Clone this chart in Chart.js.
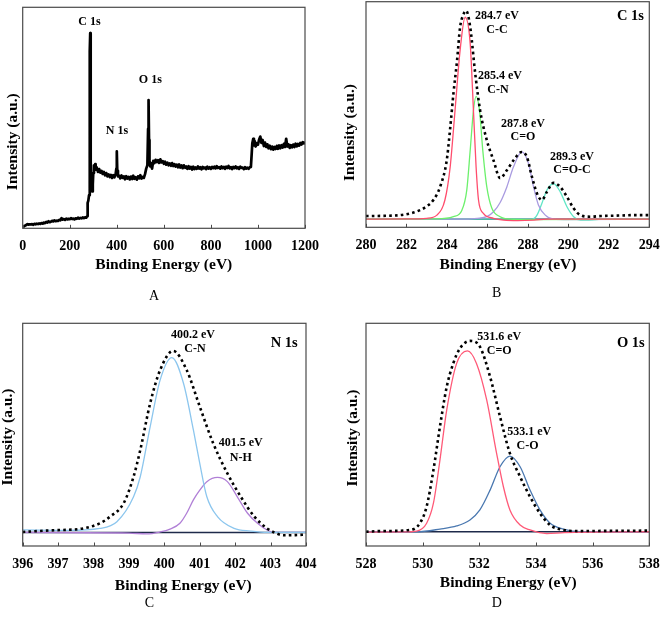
<!DOCTYPE html>
<html><head><meta charset="utf-8">
<script src="https://cdn.jsdelivr.net/npm/chart.js@4.4.1/dist/chart.umd.min.js"></script>
<style>
html,body{margin:0;padding:0;background:#fff;width:661px;height:619px;overflow:hidden;position:relative}
canvas{position:absolute}
</style></head><body>
<canvas id="cA" width="330" height="310" style="left:0;top:0"></canvas>
<canvas id="cB" width="345" height="310" style="left:330px;top:0"></canvas>
<canvas id="cC" width="330" height="309" style="left:0;top:310px"></canvas>
<canvas id="cD" width="345" height="309" style="left:330px;top:310px"></canvas>
<script>
// ---------- DATA ----------
// Panel A: survey spectrum [binding energy (eV), intensity (a.u., 0-100)]
const surveyPoints = [
[0,0.5],[5,0.8],[10,1.2],[15,1.5],[20,1.9],[25,1.6],[30,1.8],[35,1.7],[40,1.9],[45,1.6],[50,2.0],[55,1.8],[60,2.1],[65,1.9],[70,2.2],[75,2.0],[80,2.4],[85,2.1],[90,2.6],[95,2.3],
[100,2.9],[105,2.6],[110,3.2],[115,2.8],[120,3.0],[125,3.4],[130,3.1],[135,3.6],[140,3.2],[145,3.5],[150,3.3],[155,3.8],[160,3.6],[165,4.6],[170,3.9],[175,4.2],[180,3.8],[185,4.4],[190,4.0],[195,4.3],
[200,4.1],[205,4.6],[210,4.2],[215,4.4],[220,4.0],[225,4.5],[230,4.3],[235,4.8],[240,4.4],[245,4.7],[250,4.5],[255,4.9],[260,4.6],[265,5.0],[270,4.8],[274,5.5],[276,11.5],[279,12.5],[282,15],[284,40],
[286,80],[287,88.3],[288,70],[290,30],[292,18],[295,16.7],[298,20],[300,25],[303,28.5],[305,27],[308,29],[310,26.5],[315,27.5],[320,25.5],[325,26.8],[330,25.2],[335,26],[340,24.6],[345,25.5],[350,24],
[355,25],[360,23.5],[365,24.4],[370,23.2],[375,24.2],[380,22.8],[385,24],[390,23.1],[395,24.5],[398,27],[400,34.8],[402,26],[405,23.5],[410,23.8],[415,22.6],[420,23.9],[425,22.8],[430,23.5],[435,22.2],[440,23.6],
[445,22.5],[450,23.3],[455,22.1],[460,23.4],[465,22.3],[470,23.8],[475,22.4],[480,23.1],[485,22.0],[490,23.5],[495,22.6],[500,24.0],[505,22.5],[510,23.2],[515,22.8],[520,24.5],[525,27.0],[530,28.5],[533,45],[535,58],
[537,40],[539,30],[542,28],[545,29.5],[550,27],[555,30.5],[560,29.5],[565,31],[570,30],[575,30.8],[580,29.6],[585,31.2],[590,29.8],[595,30.4],[600,29.2],[605,30.1],[610,28.8],[615,29.7],[620,28.5],[625,29.4],
[630,28.3],[635,29.5],[640,28.2],[645,29],[650,27.9],[655,28.8],[660,27.6],[665,28.9],[670,27.5],[675,28.4],[680,27.2],[685,28.5],[690,27.4],[695,28.0],[700,26.9],[705,28.1],[710,27.0],[715,27.8],[720,26.6],[725,27.9],
[730,26.8],[735,27.5],[740,26.9],[745,28.0],[750,27.0],[755,27.6],[760,26.7],[765,27.8],[770,27.1],[775,27.5],[780,26.8],[785,27.9],[790,27.0],[795,27.6],[800,26.9],[805,27.8],[810,27.2],[815,27.9],[820,27.1],[825,28.1],
[830,27.3],[835,27.7],[840,27.0],[845,28.0],[850,27.2],[855,27.8],[860,26.9],[865,27.9],[870,27.3],[875,28.2],[880,27.1],[885,27.7],[890,26.8],[895,27.8],[900,27.2],[905,28.0],[910,27.1],[915,27.6],[920,26.9],[925,27.9],
[930,27.3],[935,27.5],[940,26.8],[945,27.7],[950,27.0],[955,27.4],[960,26.9],[965,27.6],[970,27.8],[973,33],[976,38.5],[980,40.5],[983,37.5],[986,39.5],[990,37],[995,38.5],[1000,37.8],[1005,40.2],[1010,41.5],[1015,38.6],
[1020,40.0],[1025,37.2],[1030,38.8],[1035,36.8],[1040,38.0],[1045,36.2],[1050,37.4],[1055,35.8],[1060,37.0],[1065,35.6],[1070,36.8],[1075,35.9],[1080,37.3],[1085,36.0],[1090,37.5],[1095,36.2],[1100,37.6],[1105,36.5],[1110,38.2],[1115,36.8],
[1120,40.5],[1125,37.0],[1130,38.0],[1135,36.4],[1140,37.6],[1145,36.6],[1150,37.9],[1155,36.8],[1160,38.3],[1165,37.1],[1170,38.2],[1175,37.4],[1180,38.6],[1185,37.9],[1190,39.0],[1195,38.4],[1200,39.2]
];
const surveyTicks = [0,200,400,600,800,1000,1200];

// Panel B: C 1s
const c1sEnvelope = [[280,5.0],[281,5.1],[281.7,5.4],[282.2,6.2],[282.67,7.6],[283.0,9.3],[283.33,12.1],[283.66,17.9],[283.99,29.7],[284.15,43],[284.32,59.2],[284.5,74],[284.65,88.7],[284.8,94],[284.95,96.0],[285.15,88.7],[285.4,68],[285.64,51.8],[285.97,38.6],[286.3,29.7],[286.63,21.8],[286.96,25.3],[287.29,29.7],[287.7,33.4],[287.95,31.2],[288.2,22.4],[288.45,15.0],[288.69,12.1],[288.94,15.7],[289.27,19.7],[289.6,17.9],[289.93,13.5],[290.26,8.4],[290.6,5.4],[291.1,4.7],[291.6,5.0],[292.5,5.2],[293.3,5.4],[294,5.4]];
const c1sCC = [[280,3.6],[282,3.7],[283.0,4.0],[283.5,5.4],[283.9,12.1],[284.16,26.8],[284.4,51.8],[284.65,78.4],[284.9,93.1],[285.15,81.3],[285.31,51.8],[285.44,26.8],[285.56,12.1],[285.8,6.2],[286.3,4.0],[286.8,3.2],[287.5,3.0],[288.3,3.2],[289,3.6],[294,3.6]];
const c1sCN = [[280,3.6],[283.5,3.7],[284.32,4.7],[284.74,7.6],[284.98,16.5],[285.15,34.2],[285.31,51.8],[285.44,58.0],[285.61,51.8],[285.77,34.2],[285.97,17.9],[286.22,8.4],[286.63,4.7],[287.1,3.6],[288,3.4],[294,3.6]];
const c1sCO = [[280,3.6],[284.5,3.6],[285.5,4.0],[285.97,4.7],[286.3,6.9],[286.63,11.0],[286.96,17.9],[287.29,26.8],[287.7,33.4],[288.03,28.3],[288.28,17.9],[288.52,9.9],[288.86,5.4],[289.27,3.6],[290,3.4],[294,3.6]];
const c1sOCO = [[280,3.7],[287.5,3.6],[288.2,3.6],[288.45,5.4],[288.69,10.6],[288.94,16.5],[289.27,19.4],[289.6,15.7],[289.93,9.1],[290.26,4.7],[290.6,3.2],[290.9,3.2],[291.5,3.5],[294,3.6]];
const c1sBaseline = [[280,3.6],[294,3.6]];
const c1sTicks = [280,282,284,286,288,290,292,294];

// Panel C: N 1s
const n1sEnvelope = [[396,6.3],[396.77,7.0],[397.71,7.9],[398.18,10.2],[398.47,13.2],[398.85,19.2],[399.13,31.1],[399.32,43.1],[399.6,64.1],[399.88,79.0],[400.25,87.6],[400.63,79.0],[401.0,62.6],[401.38,46.1],[401.78,32.6],[402.16,22.1],[402.54,13.2],[402.9,7.9],[403.1,6.1],[403.38,4.8],[403.7,4.9],[404,5.1]];
const n1sCN = [[396,7.2],[397.24,7.0],[398.18,7.9],[398.66,10.9],[399.13,22.1],[399.32,31.1],[399.6,53.6],[399.88,74.5],[400.21,84.6],[400.54,73.1],[400.82,52.1],[401.0,37.1],[401.2,22.1],[401.5,13.2],[401.97,7.9],[402.44,6.7],[402.9,6.1],[404,6.1]];
const n1sNH = [[396,6.1],[399,5.8],[399.5,5.4],[399.88,6.3],[400.16,7.6],[400.44,10.2],[400.63,14.7],[400.82,20.7],[401.0,25.1],[401.2,28.9],[401.5,30.8],[401.78,28.9],[402.06,22.1],[402.35,14.7],[402.63,10.2],[402.9,7.2],[403.1,6.1],[404,6.1]];
const n1sBaseline = [[396,6.1],[404,6.1]];
const n1sTicks = [396,397,398,399,400,401,402,403,404];

// Panel D: O 1s
const o1sEnvelope = [[528,6.4],[528.5,6.7],[529.55,7.2],[529.9,10.2],[530.14,17.7],[530.38,34.1],[530.61,53.6],[530.85,71.5],[531.08,82.0],[531.32,88.8],[531.67,92.1],[532.02,89.5],[532.38,76.0],[532.73,58.1],[533.08,41.6],[533.44,31.1],[533.79,22.1],[534.14,14.7],[534.5,9.4],[534.97,7.2],[535.55,6.7],[536.5,6.8],[538,6.9]];
const o1sCdO = [[528,6.2],[529.3,6.3],[529.79,6.7],[530.14,10.2],[530.38,19.2],[530.61,38.6],[530.85,61.1],[531.2,82.0],[531.58,87.6],[531.9,82.0],[532.26,65.6],[532.61,41.6],[532.85,26.6],[533.08,16.2],[533.44,9.4],[533.79,7.2],[534.38,5.6],[535,6.0],[538,6.4]];
const o1sCO = [[528,6.4],[529.79,6.4],[530.61,7.6],[531.2,9.0],[531.67,11.7],[532.02,16.2],[532.38,25.1],[532.73,35.6],[533.08,40.4],[533.44,35.6],[533.79,25.1],[534.14,16.2],[534.5,10.2],[534.97,7.6],[535.55,6.4],[538,6.4]];
const o1sBaseline = [[528,6.4],[538,6.4]];
const o1sTicks = [528,530,532,534,536,538];

// ---------- RENDERING ----------
const SERIF = '"Liberation Serif","Times New Roman",serif';
const pts = arr => arr.map(p => ({x: p[0], y: p[1]}));

const decoPlugin = {
  id: 'deco',
  afterDatasetsDraw(chart, args, opts) {
    const ctx = chart.ctx, a = chart.chartArea, xs = chart.scales.x;
    ctx.save();
    // inward tick marks
    ctx.strokeStyle = '#4a4a4a'; ctx.lineWidth = 1;
    xs.ticks.forEach(t => {
      const px = Math.round(xs.getPixelForValue(t.value)) + 0.5;
      ctx.beginPath(); ctx.moveTo(px, a.bottom); ctx.lineTo(px, a.bottom - 3.5); ctx.stroke();
    });
    // frame
    ctx.strokeStyle = '#4a4a4a'; ctx.lineWidth = 1.2;
    ctx.strokeRect(a.left, a.top, a.right - a.left, a.bottom - a.top);
    // texts
    const ox = opts.ox, oy = opts.oy;
    (opts.texts || []).forEach(t => {
      ctx.save();
      ctx.fillStyle = '#000';
      ctx.font = (t.w || 'bold') + ' ' + t.s + 'px ' + SERIF;
      ctx.textAlign = 'center'; ctx.textBaseline = 'middle';
      ctx.translate(t.x - ox, t.y - oy);
      if (t.r) ctx.rotate(-Math.PI / 2);
      ctx.fillText(t.t, 0, 0);
      ctx.restore();
    });
    ctx.restore();
  }
};

function makePanel(id, canvasBox, area, xmin, xmax, ticks, datasets, texts) {
  const XH = 40;
  new Chart(document.getElementById(id), {
    type: 'line',
    data: { datasets },
    options: {
      responsive: false, animation: false, devicePixelRatio: 1,
      layout: { padding: {
        left: area.l - canvasBox.x, top: area.t - canvasBox.y,
        right: canvasBox.x + canvasBox.w - area.r,
        bottom: canvasBox.y + canvasBox.h - area.b - XH } },
      plugins: { legend: { display: false }, tooltip: { enabled: false },
        deco: { ox: canvasBox.x, oy: canvasBox.y, texts } },
      elements: { point: { radius: 0 } },
      scales: {
        x: { type: 'linear', min: xmin, max: xmax, position: 'bottom',
          grid: { display: false }, border: { display: false },
          afterBuildTicks: s => { s.ticks = ticks.map(v => ({ value: v })); },
          afterFit: s => { s.height = XH; },
          ticks: { color: '#000', padding: 2, maxRotation: 0, autoSkip: false,
            callback: v => String(v),
            font: { family: SERIF, size: 14, weight: 'bold' } } },
        y: { type: 'linear', min: 0, max: 100, display: false }
      }
    },
    plugins: [decoPlugin]
  });
}

function curve(data, color, width, dash, smooth) {
  return { data: pts(data), borderColor: color, borderWidth: width, borderDash: dash || [],
    fill: false, pointRadius: 0, cubicInterpolationMode: smooth ? 'monotone' : 'default', tension: 0,
    borderCapStyle: 'butt', borderJoinStyle: 'round' };
}

const DOT = [2.6, 3.2];

// Panel A
makePanel('cA', {x:0, y:0, w:330, h:310}, {l:22.7, t:7.3, r:305, b:228.3}, 0, 1200, surveyTicks,
  [ curve(surveyPoints, '#000', 2.7, null, false) ],
  [ {t:'C 1s', x:89.5, y:22, s:12}, {t:'N 1s', x:117, y:131, s:12}, {t:'O 1s', x:150.3, y:80, s:12},
    {t:'Binding Energy (eV)', x:163.8, y:265, s:15.5},
    {t:'Intensity (a.u.)', x:13.3, y:141.7, s:15.5, r:true},
    {t:'A', x:154, y:296, s:14, w:'normal'} ]);

// Panel B
makePanel('cB', {x:330, y:0, w:345, h:310}, {l:366, t:1.7, r:649.3, b:227.3}, 280, 294, c1sTicks,
  [ curve(c1sEnvelope, '#000', 2.6, DOT, true),
    curve(c1sCC, '#ff4d6d', 1.3, null, true),
    curve(c1sCN, '#6cf06c', 1.3, null, true),
    curve(c1sCO, '#a99be0', 1.3, null, true),
    curve(c1sOCO, '#5fe6c6', 1.3, null, true),
    curve(c1sBaseline, '#1e2a4a', 1.5, null, false) ],
  [ {t:'284.7 eV', x:497, y:16, s:12}, {t:'C-C', x:497, y:30, s:12},
    {t:'285.4 eV', x:500, y:76, s:12}, {t:'C-N', x:498, y:90, s:12},
    {t:'287.8 eV', x:523, y:124, s:12}, {t:'C=O', x:523, y:137, s:12},
    {t:'289.3 eV', x:572, y:157, s:12}, {t:'C=O-C', x:572, y:170, s:12},
    {t:'C 1s', x:630.5, y:16.7, s:14.5},
    {t:'Binding Energy (eV)', x:508, y:265, s:15.5},
    {t:'Intensity (a.u.)', x:350, y:132.5, s:15.5, r:true},
    {t:'B', x:496.7, y:293.5, s:14, w:'normal'} ]);

// Panel C
makePanel('cC', {x:0, y:310, w:330, h:309}, {l:22.7, t:323.3, r:306, b:546}, 396, 404, n1sTicks,
  [ curve(n1sEnvelope, '#000', 2.6, DOT, true),
    curve(n1sCN, '#8cc6ee', 1.3, null, true),
    curve(n1sNH, '#b07fd6', 1.3, null, true),
    curve(n1sBaseline, '#1e2a4a', 1.5, null, false) ],
  [ {t:'400.2 eV', x:193, y:335, s:12}, {t:'C-N', x:195, y:348.7, s:12},
    {t:'401.5 eV', x:240.7, y:443.3, s:12}, {t:'N-H', x:240.8, y:457.7, s:12},
    {t:'N 1s', x:284.2, y:343, s:14.5},
    {t:'Binding Energy (eV)', x:183.3, y:586, s:15.5},
    {t:'Intensity (a.u.)', x:8.3, y:437, s:15.5, r:true},
    {t:'C', x:149.3, y:603.3, s:14, w:'normal'} ]);

// Panel D
makePanel('cD', {x:330, y:310, w:345, h:309}, {l:366, t:323.3, r:649.3, b:546}, 528, 538, o1sTicks,
  [ curve(o1sEnvelope, '#000', 2.6, DOT, true),
    curve(o1sCdO, '#ff5a78', 1.3, null, true),
    curve(o1sCO, '#4a78b0', 1.3, null, true),
    curve(o1sBaseline, '#1e2a4a', 1.5, null, false) ],
  [ {t:'531.6 eV', x:499.2, y:336.7, s:12}, {t:'C=O', x:499.2, y:350.5, s:12},
    {t:'533.1 eV', x:529.2, y:432.3, s:12}, {t:'C-O', x:527.5, y:445.8, s:12},
    {t:'O 1s', x:630.8, y:343, s:14.5},
    {t:'Binding Energy (eV)', x:508.3, y:583.3, s:15.5},
    {t:'Intensity (a.u.)', x:353, y:438, s:15.5, r:true},
    {t:'D', x:496.7, y:603, s:14, w:'normal'} ]);
</script>
</body></html>
